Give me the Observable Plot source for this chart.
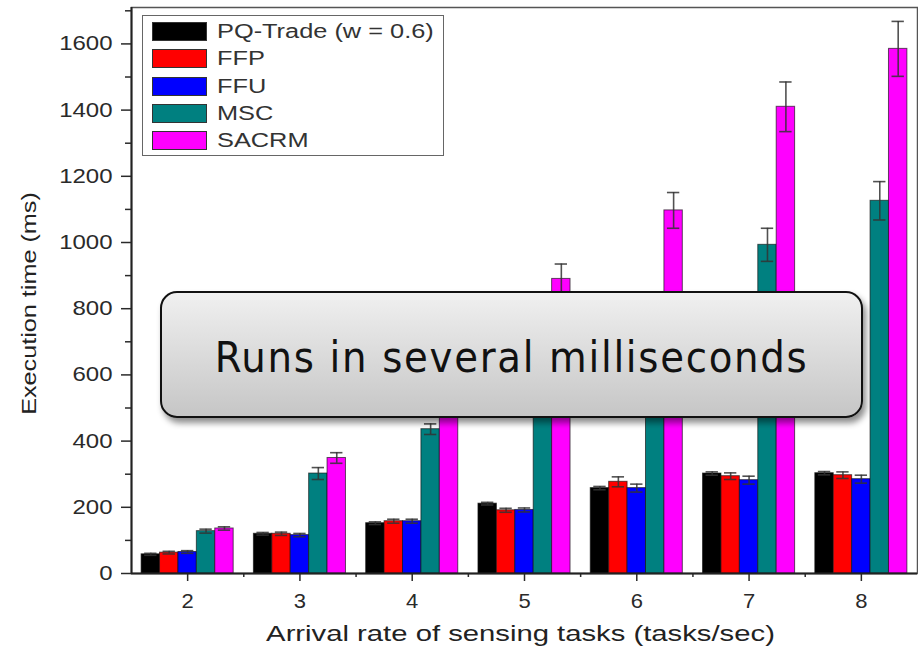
<!DOCTYPE html>
<html>
<head>
<meta charset="utf-8">
<script src="https://cdn.jsdelivr.net/npm/d3@7"></script>
<script src="https://cdn.jsdelivr.net/npm/@observablehq/plot@0.6"></script>
<style>
  html, body { margin: 0; padding: 0; background: #fff; }
  #wrap { position: relative; width: 918px; height: 651px; overflow: hidden; font-family: "Liberation Sans", Arial, sans-serif; }
  #legend { position: absolute; left: 142px; top: 15px; width: 302px; height: 141px; border: 1.5px solid #666; background: #fff; box-sizing: border-box; }
  .row { position: absolute; left: 9px; height: 19px; }
  .sw { position: absolute; left: 0; top: 0; width: 55px; height: 19px; box-sizing: border-box; border: 1.5px solid #333; }
  .lt { position: absolute; left: 65px; top: -2px; font-size: 19.5px; color: #333; white-space: nowrap; transform: scaleX(1.3); transform-origin: 0 50%; }
  #callout { position: absolute; left: 160px; top: 291px; width: 703px; height: 127px; box-sizing: border-box; border: 2px solid #111; border-radius: 17px;
    background: linear-gradient(#f0f0f0, #c6c6c6); box-shadow: 3px 5px 6px rgba(0,0,0,0.45);
    display: flex; align-items: center; justify-content: center; padding-top: 5px; }
  #callout span { font-family: "DejaVu Sans Condensed", "DejaVu Sans", sans-serif; font-size: 43px; color: #111; letter-spacing: 1.7px; }
</style>
</head>
<body>
<div id="wrap"></div>
<script>
const rates = [2, 3, 4, 5, 6, 7, 8];
const seriesNames = ["PQ-Trade (w = 0.6)", "FFP", "FFU", "MSC", "SACRM"];
const seriesColors = ["#000000", "#ff0000", "#0000ff", "#008080", "#ff00ff"];
const pqTrade = [58, 120, 152, 211, 258, 302, 303];
const ffp     = [63, 120, 158, 191, 277, 294, 297];
const ffu     = [65, 116, 158, 192, 258, 282, 285];
const msc     = [128, 302, 436, 600, 760, 993, 1126];
const sacrm   = [136, 349, 600, 890, 1097, 1410, 1585];
const pqTradeErr = [3, 4, 4, 4, 5, 5, 5];
const ffpErr     = [4, 5, 6, 6, 15, 10, 10];
const ffuErr     = [4, 5, 6, 6, 12, 12, 12];
const mscErr     = [6, 18, 16, 30, 40, 50, 58];
const sacrmErr   = [5, 16, 20, 45, 54, 75, 83];
const yMajorTicks = [0, 200, 400, 600, 800, 1000, 1200, 1400, 1600];
const yMinorTicks = [100, 300, 500, 700, 900, 1100, 1300, 1500, 1700];
const xMinorTicks = [2.5, 3.5, 4.5, 5.5, 6.5, 7.5];
const xLabel = "Arrival rate of sensing tasks (tasks/sec)";
const yLabel = "Execution time (ms)";
const calloutText = "Runs in several milliseconds";

const values = [pqTrade, ffp, ffu, msc, sacrm];
const errors = [pqTradeErr, ffpErr, ffuErr, mscErr, sacrmErr];
const data = [];
seriesNames.forEach((s, i) => rates.forEach((r, j) => data.push({rate: r, series: s, i, value: values[i][j], err: errors[i][j]})));

const barW = 0.164;
const capHalf = 0.055;
const center = d => d.rate + (d.i - 2) * barW;

const chart = Plot.plot({
  width: 918, height: 651,
  marginLeft: 131, marginRight: 1, marginTop: 7, marginBottom: 78,
  x: {domain: [1.5, 8.5]},
  y: {domain: [0, 1710]},
  color: {domain: seriesNames, range: seriesColors},
  style: {fontFamily: "'Liberation Sans', Arial, sans-serif", fontSize: "20px", color: "#2a2a2a", background: "#fff"},
  marks: [
    Plot.frame({stroke: "#555", strokeWidth: 1.5}),
    Plot.rectY(data, {x1: d => d.rate + (d.i - 2.5) * barW, x2: d => d.rate + (d.i - 1.5) * barW, y1: 0, y2: "value", fill: "series", stroke: "#111", strokeWidth: 1, strokeOpacity: 0.65}),
    Plot.ruleX(data, {x: center, y1: d => d.value - d.err, y2: d => d.value + d.err, stroke: "#333", strokeWidth: 1.6, strokeOpacity: 0.85}),
    Plot.ruleY(data, {y: d => d.value + d.err, x1: d => center(d) - capHalf, x2: d => center(d) + capHalf, stroke: "#333", strokeWidth: 1.6, strokeOpacity: 0.85}),
    Plot.ruleY(data, {y: d => d.value - d.err, x1: d => center(d) - capHalf, x2: d => center(d) + capHalf, stroke: "#333", strokeWidth: 1.6, strokeOpacity: 0.85}),
    Plot.axisY({ticks: yMajorTicks, tickSize: 10, tickPadding: 9, tickFormat: d => String(d), label: null, fontSize: 20, strokeWidth: 1.5}),
    Plot.axisY({ticks: yMinorTicks, tickSize: 6, tickFormat: () => "", label: null, strokeWidth: 1.5}),
    Plot.axisX({ticks: rates, tickSize: 8, tickPadding: 12, tickFormat: d => String(d), label: null, fontSize: 20, strokeWidth: 1.5}),
    Plot.axisX({ticks: xMinorTicks, tickSize: 4, tickFormat: () => "", label: null, strokeWidth: 1.5}),
    Plot.ruleX([1.5], {stroke: "#222", strokeWidth: 2}),
    Plot.ruleY([0], {stroke: "#222", strokeWidth: 2}),
    Plot.text([xLabel], {frameAnchor: "bottom", dx: -4, dy: 60, textAnchor: "middle", lineAnchor: "middle", fontSize: 22, fill: "#222"}),
    Plot.text([yLabel], {frameAnchor: "left", dx: -102, dy: 13, rotate: -90, textAnchor: "middle", lineAnchor: "middle", fontSize: 21, fill: "#222"})
  ]
});

// widen text horizontally to match the reference's broad sans lettering
function stretchText(t, k) {
  let tr = t.getAttribute("transform") || "";
  const xa = t.getAttribute("x");
  if (xa !== null && !isNaN(+xa)) {
    tr += ` translate(${+xa},0)`;
    t.removeAttribute("x");
  }
  t.setAttribute("transform", (tr + ` scale(${k},1)`).trim());
}
chart.querySelectorAll("text").forEach(t => {
  const txt = t.textContent;
  const g = t.closest("g[aria-label]");
  const lab = g ? g.getAttribute("aria-label") : "";
  if (txt === xLabel) stretchText(t, 1.33);
  else if (txt === yLabel) stretchText(t, 1.2);
  else if (lab === "y-axis tick label") stretchText(t, 1.2);
  else if (lab === "x-axis tick label") stretchText(t, 1.1);
});

const wrap = document.getElementById("wrap");
wrap.appendChild(chart);

// legend
const legend = document.createElement("div");
legend.id = "legend";
seriesNames.forEach((s, i) => {
  const row = document.createElement("div");
  row.className = "row";
  row.style.top = (6 + i * 27.3) + "px";
  const sw = document.createElement("div");
  sw.className = "sw";
  sw.style.background = seriesColors[i];
  const lt = document.createElement("div");
  lt.className = "lt";
  lt.textContent = s;
  row.appendChild(sw); row.appendChild(lt);
  legend.appendChild(row);
});
wrap.appendChild(legend);

// callout
const callout = document.createElement("div");
callout.id = "callout";
const span = document.createElement("span");
span.textContent = calloutText;
callout.appendChild(span);
wrap.appendChild(callout);
</script>
</body>
</html>
